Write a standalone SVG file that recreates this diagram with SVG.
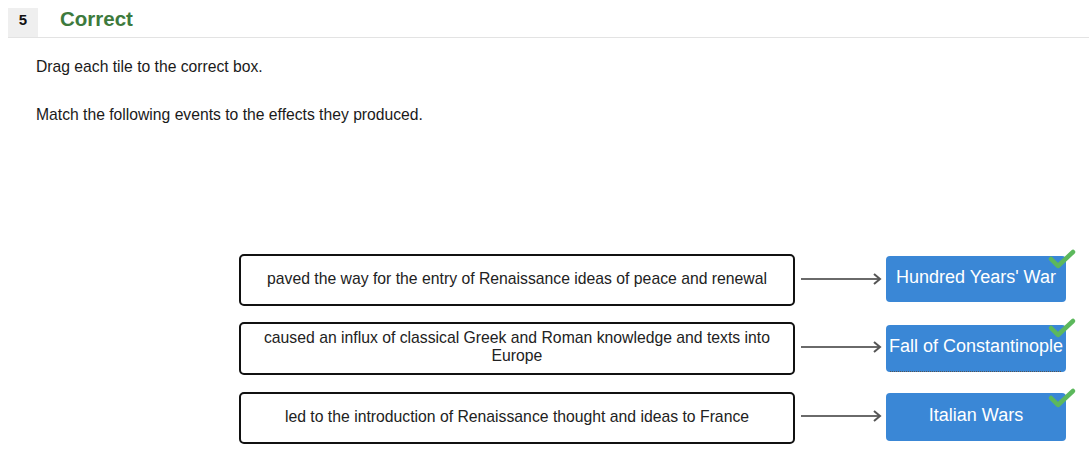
<svg xmlns="http://www.w3.org/2000/svg" width="1089" height="457" viewBox="0 0 1089 457">
<style>
text{font-family:"Liberation Sans",Arial,sans-serif}
.q{font-size:15.7px;fill:#1a1a1a}
.tile{fill:#fff;stroke:#111;stroke-width:2}
.tt{font-size:15.75px;fill:#222;text-anchor:middle}
.ans{fill:#3a87d6}
.at{font-size:18px;fill:#fff;text-anchor:middle}
.conn{stroke:#6a6a6a;stroke-width:2;fill:none}
.chk{stroke:#5cb85c;stroke-width:4.5;fill:none;stroke-linecap:round;stroke-linejoin:round}
</style>
<defs>
<marker id="arr" markerWidth="12" markerHeight="14" refX="10" refY="7" orient="auto" markerUnits="userSpaceOnUse">
<path d="M4,2 L10,7 L4,12" fill="none" stroke="#555" stroke-width="2"/>
</marker>
</defs>
<rect width="1089" height="457" fill="#fff"/>
<g id="header">
<rect x="8" y="8" width="30" height="30" fill="#efefef"/>
<text x="23" y="25" font-size="15" font-weight="bold" text-anchor="middle" fill="#111">5</text>
<text x="60" y="26" font-size="20.5" font-weight="bold" fill="#3d7a3d">Correct</text>
<line x1="8" y1="37.5" x2="1089" y2="37.5" stroke="#e3e3e3" stroke-width="1"/>
</g>
<text class="q" x="36" y="72">Drag each tile to the correct box.</text>
<text class="q" x="36" y="120">Match the following events to the effects they produced.</text>
<g id="tile1"><rect class="tile" x="240" y="255" width="554" height="50" rx="4"/><text class="tt" x="517" y="284">paved the way for the entry of Renaissance ideas of peace and renewal</text></g>
<g id="tile2"><rect class="tile" x="240" y="323" width="554" height="51" rx="4"/><text class="tt" x="517" y="343">caused an influx of classical Greek and Roman knowledge and texts into</text><text class="tt" x="517" y="361">Europe</text></g>
<g id="tile3"><rect class="tile" x="240" y="393" width="554" height="50" rx="4"/><text class="tt" x="517" y="422">led to the introduction of Renaissance thought and ideas to France</text></g>
<g id="connectors">
<line class="conn" x1="801" y1="279" x2="880" y2="279" marker-end="url(#arr)"/>
<line class="conn" x1="801" y1="347" x2="880" y2="347" marker-end="url(#arr)"/>
<line class="conn" x1="801" y1="416" x2="880" y2="416" marker-end="url(#arr)"/>
</g>
<g id="answer1"><rect class="ans" x="886" y="256" width="180" height="46" rx="4"/><text class="at" x="976" y="283">Hundred Years' War</text><path class="chk" d="M1051,259 L1058,266 L1073,252"/></g>
<g id="answer2"><rect class="ans" x="886" y="325" width="180" height="47" rx="4"/><line x1="890" y1="371.5" x2="1062" y2="371.5" stroke="#555" stroke-width="1" stroke-dasharray="1,1"/><text class="at" x="976" y="352">Fall of Constantinople</text><path class="chk" d="M1051,328 L1058,335 L1073,321"/></g>
<g id="answer3"><rect class="ans" x="886" y="393" width="180" height="48" rx="4"/><text class="at" x="976" y="421">Italian Wars</text><path class="chk" d="M1051,398 L1058,405 L1073,391"/></g>
</svg>
